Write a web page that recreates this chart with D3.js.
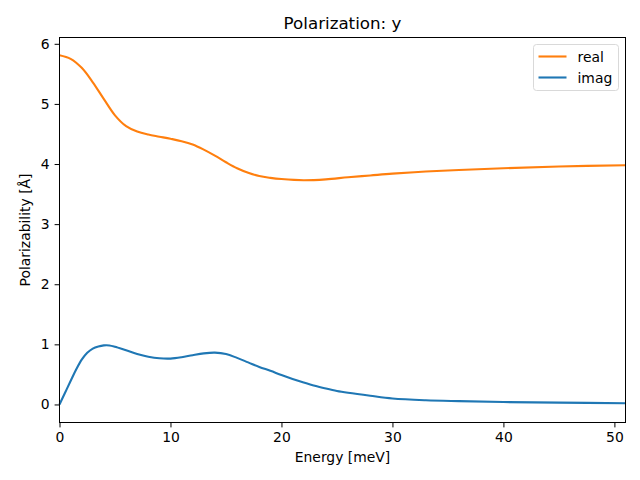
<!DOCTYPE html>
<html>
<head>
<meta charset="utf-8">
<script src="https://cdn.jsdelivr.net/npm/d3@7"></script>
<style>
  body { margin: 0; background: #fff; }
  svg { display: block; font-family: "DejaVu Sans", sans-serif; }
</style>
</head>
<body>
<div id="chart"></div>
<script>
// == DATA ==
const energyReal = [0, 1, 2, 3, 4, 5, 6, 7, 8, 9, 10, 11, 12, 13, 14, 15, 16, 17, 18, 19, 20, 22, 24, 26, 28, 30, 33, 36, 40, 45, 51];
const realValues = [5.81, 5.75, 5.60, 5.36, 5.08, 4.81, 4.63, 4.54, 4.49, 4.455, 4.42, 4.38, 4.325, 4.24, 4.14, 4.03, 3.93, 3.855, 3.80, 3.77, 3.75, 3.73, 3.745, 3.78, 3.81, 3.84, 3.875, 3.90, 3.93, 3.96, 3.98];

const energyImag = [0, 0.5, 1, 1.5, 2, 2.5, 3, 3.5, 4, 4.5, 5, 6, 7, 8, 9, 10, 11, 12, 13, 14, 15, 16, 17, 18, 19, 20, 21, 22, 23, 24, 25, 26, 28, 30, 33, 36, 40, 45, 51];
const imagValues = [0, 0.195, 0.39, 0.58, 0.745, 0.86, 0.93, 0.965, 0.983, 0.982, 0.96, 0.90, 0.84, 0.795, 0.768, 0.763, 0.785, 0.82, 0.85, 0.862, 0.84, 0.775, 0.70, 0.625, 0.56, 0.49, 0.425, 0.365, 0.31, 0.265, 0.225, 0.195, 0.145, 0.10, 0.07, 0.055, 0.04, 0.03, 0.02];

const xTicks = [0, 10, 20, 30, 40, 50];
const yTicks = [0, 1, 2, 3, 4, 5, 6];
const seriesNames = ['real', 'imag'];

// == CONFIG ==
const W = 640, H = 480;
const M = { left: 59.5, right: 640 - 625.5, top: 37.5, bottom: 480 - 422.5 };
const COLOR_REAL = '#ff7f0e';
const COLOR_IMAG = '#1f77b4';

const svg = d3.select('#chart').append('svg')
  .attr('width', W).attr('height', H);

const x = d3.scaleLinear().domain([0, 51]).range([M.left, W - M.right]);
const y = d3.scaleLinear().domain([-0.3, 6.105]).range([H - M.bottom, M.top]);

// Lines
const line = d3.line()
  .x(d => x(d[0]))
  .y(d => y(d[1]))
  .curve(d3.curveCatmullRom.alpha(0.5));

const realData = energyReal.map((e, i) => [e, realValues[i]]);
const imagData = energyImag.map((e, i) => [e, imagValues[i]]);

const gPlot = svg.append('g');
gPlot.append('path').datum(realData)
  .attr('d', line).attr('fill', 'none')
  .attr('stroke', COLOR_REAL).attr('stroke-width', 2.1);
gPlot.append('path').datum(imagData)
  .attr('d', line).attr('fill', 'none')
  .attr('stroke', COLOR_IMAG).attr('stroke-width', 2.1);

// Axes
const xAxis = svg.append('g')
  .attr('transform', `translate(0,${H - M.bottom})`)
  .call(d3.axisBottom(x).tickValues(xTicks).tickFormat(d3.format('d'))
    .tickSize(4.9).tickPadding(4.9).tickSizeOuter(0));
const yAxis = svg.append('g')
  .attr('transform', `translate(${M.left},0)`)
  .call(d3.axisLeft(y).tickValues(yTicks).tickFormat(d3.format('d'))
    .tickSize(4.9).tickPadding(4.9).tickSizeOuter(0));

[xAxis, yAxis].forEach(a => {
  a.select('.domain').remove();
  a.selectAll('line').attr('stroke', '#000').attr('stroke-width', 1);
  a.selectAll('text').attr('fill', '#000')
    .attr('font-family', '"DejaVu Sans", sans-serif').attr('font-size', '13.9px');
});

// Frame
svg.append('rect')
  .attr('x', M.left).attr('y', M.top)
  .attr('width', W - M.left - M.right).attr('height', H - M.top - M.bottom)
  .attr('fill', 'none').attr('stroke', '#000').attr('stroke-width', 1);

// Labels
svg.append('text')
  .attr('x', (M.left + W - M.right) / 2).attr('y', 29)
  .attr('text-anchor', 'middle').attr('font-size', '16.7px')
  .text('Polarization: y');
svg.append('text')
  .attr('x', (M.left + W - M.right) / 2).attr('y', 462)
  .attr('text-anchor', 'middle').attr('font-size', '13.9px')
  .text('Energy [meV]');
svg.append('text')
  .attr('transform', `translate(30,${(M.top + H - M.bottom) / 2}) rotate(-90)`)
  .attr('text-anchor', 'middle').attr('font-size', '13.9px')
  .text('Polarizability [Å]');

// Legend
const gLegend = svg.append('g').attr('transform', 'translate(533.5,44.5)');
gLegend.append('rect')
  .attr('width', 85).attr('height', 46).attr('rx', 3)
  .attr('fill', '#fff').attr('fill-opacity', 0.8)
  .attr('stroke', '#d9d9d9').attr('stroke-width', 1);
seriesNames.forEach((name, i) => {
  const yy = 12 + i * 21;
  gLegend.append('line')
    .attr('x1', 5).attr('x2', 33).attr('y1', yy).attr('y2', yy)
    .attr('stroke', i === 0 ? COLOR_REAL : COLOR_IMAG).attr('stroke-width', 2.1);
  gLegend.append('text')
    .attr('x', 44).attr('y', yy + 5)
    .attr('font-size', '13.9px')
    .text(name);
});
</script>
</body>
</html>
